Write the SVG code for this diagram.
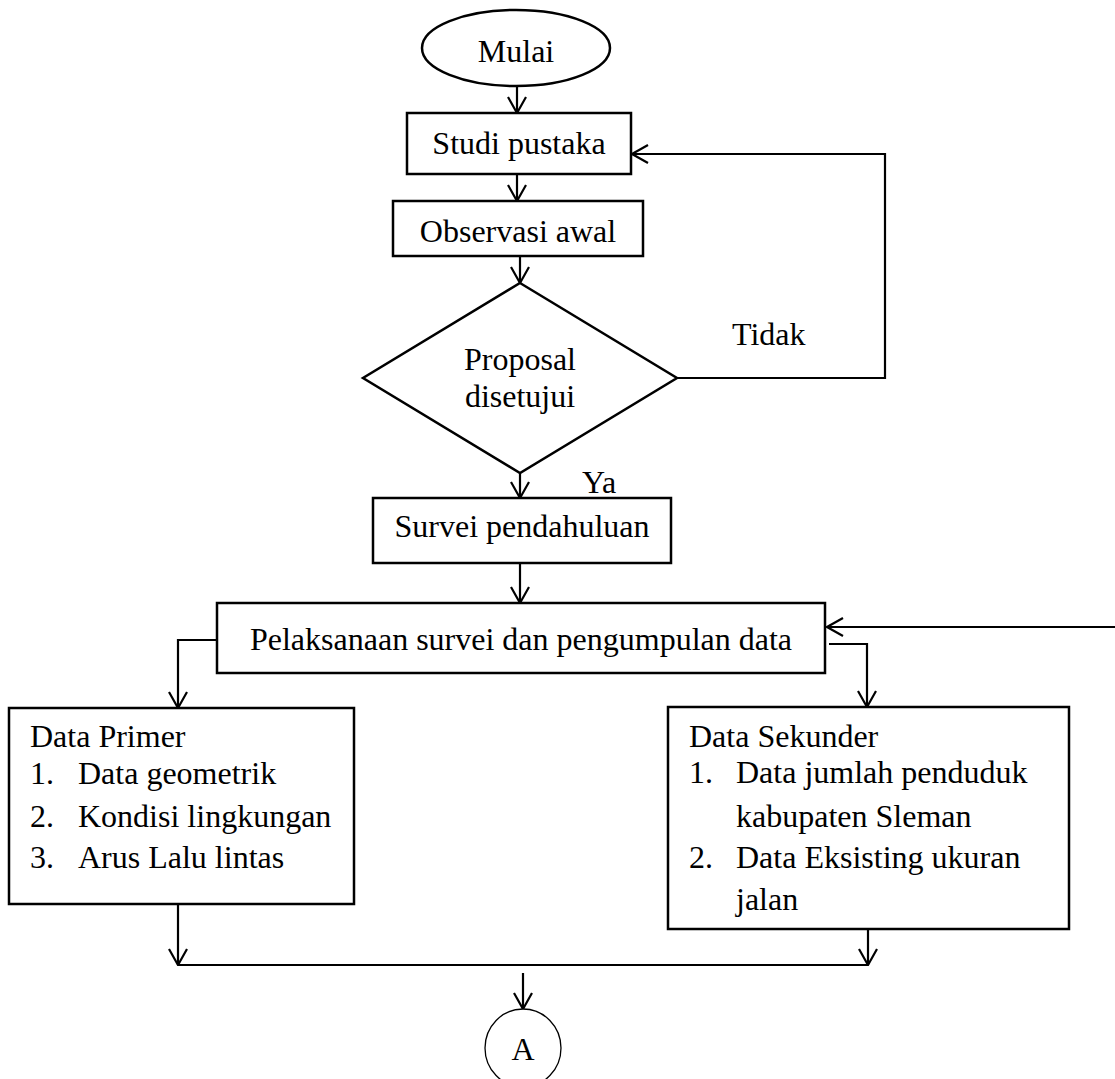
<svg xmlns="http://www.w3.org/2000/svg" width="1115" height="1079" viewBox="0 0 1115 1079">
<style>
  .box { fill: #fff; stroke: #000; stroke-width: 2.5; }
  .t { font-family: "Liberation Serif", "Times New Roman", serif; font-size: 32px; fill: #000; }
  .c { text-anchor: middle; }
  .conn { fill: none; stroke: #000; stroke-width: 2.2; }
</style>
<defs>
  <marker id="arr" viewBox="0 0 18 20" refX="17" refY="10" markerWidth="18" markerHeight="20" markerUnits="userSpaceOnUse" orient="auto">
    <path d="M1,1 L17,10 L1,19" fill="none" stroke="#000" stroke-width="2.2"/>
  </marker>
</defs>
<rect width="1115" height="1079" fill="#fff"/>

<g id="connectors">
  <path class="conn" d="M517,86 V113" marker-end="url(#arr)"/>
  <path class="conn" d="M517,174 V201" marker-end="url(#arr)"/>
  <path class="conn" d="M520,256 V283" marker-end="url(#arr)"/>
  <path class="conn" d="M677,378 H885 V154 H632" marker-end="url(#arr)"/>
  <path class="conn" d="M520,473 V498" marker-end="url(#arr)"/>
  <path class="conn" d="M520,563 V603" marker-end="url(#arr)"/>
  <path class="conn" d="M217,640 H178 V708" marker-end="url(#arr)"/>
  <path class="conn" d="M829,644 H867 V707" marker-end="url(#arr)"/>
  <path class="conn" d="M1115,627 H827" marker-end="url(#arr)"/>
  <path class="conn" d="M178,904 V965" marker-end="url(#arr)"/>
  <path class="conn" d="M868,929 V965" marker-end="url(#arr)"/>
  <path class="conn" d="M178,965 H868"/>
  <path class="conn" d="M523,973 V1009" marker-end="url(#arr)"/>
</g>

<g id="mulai">
  <ellipse class="box" cx="516" cy="48" rx="94" ry="38"/>
  <text class="t c" x="516" y="62">Mulai</text>
</g>
<g id="studi">
  <rect class="box" x="407" y="113" width="224" height="61"/>
  <text class="t c" x="519" y="154">Studi pustaka</text>
</g>
<g id="observasi">
  <rect class="box" x="393" y="201" width="250" height="55"/>
  <text class="t c" x="518" y="242">Observasi awal</text>
</g>
<g id="proposal">
  <polygon class="box" points="520,283 677,378 520,473 363,378" stroke-width="3"/>
  <text class="t c" x="520" y="370">Proposal</text>
  <text class="t c" x="520" y="407">disetujui</text>
</g>
<g id="label-tidak">
  <text class="t" x="732" y="345">Tidak</text>
</g>
<g id="label-ya">
  <text class="t" x="582" y="493">Ya</text>
</g>
<g id="survei">
  <rect class="box" x="373" y="498" width="298" height="65"/>
  <text class="t c" x="522" y="537">Survei pendahuluan</text>
</g>
<g id="pelaksanaan">
  <rect class="box" x="217" y="603" width="608" height="70"/>
  <text class="t c" x="521" y="650">Pelaksanaan survei dan pengumpulan data</text>
</g>
<g id="data-primer">
  <rect class="box" x="9" y="708" width="345" height="196"/>
  <text class="t" x="30" y="747">Data Primer</text>
  <text class="t" x="30" y="784">1.</text>
  <text class="t" x="78" y="784">Data geometrik</text>
  <text class="t" x="30" y="827">2.</text>
  <text class="t" x="78" y="827">Kondisi lingkungan</text>
  <text class="t" x="30" y="868">3.</text>
  <text class="t" x="78" y="868">Arus Lalu lintas</text>
</g>
<g id="data-sekunder">
  <rect class="box" x="668" y="707" width="401" height="222"/>
  <text class="t" x="689" y="747">Data Sekunder</text>
  <text class="t" x="689" y="783">1.</text>
  <text class="t" x="736" y="783">Data jumlah penduduk</text>
  <text class="t" x="736" y="827">kabupaten Sleman</text>
  <text class="t" x="689" y="868">2.</text>
  <text class="t" x="736" y="868">Data Eksisting ukuran</text>
  <text class="t" x="736" y="910">jalan</text>
</g>
<g id="connector-a">
  <ellipse cx="523" cy="1048" rx="38" ry="39" fill="#fff" stroke="#000" stroke-width="1.3"/>
  <text class="t c" x="523" y="1060">A</text>
</g>
</svg>
